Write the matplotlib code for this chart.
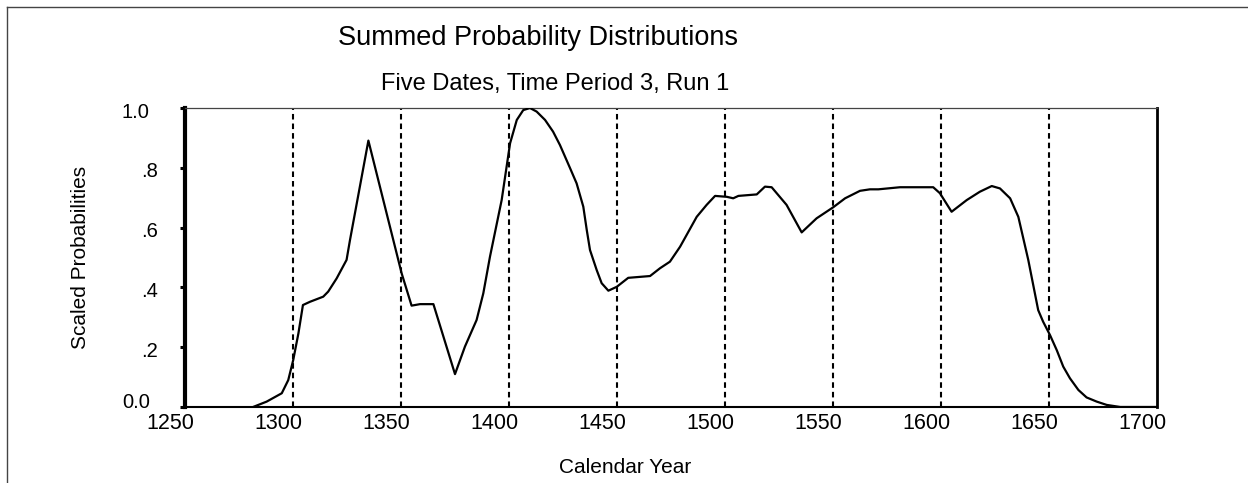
import matplotlib
matplotlib.use('Agg')
import matplotlib.pyplot as plt
from matplotlib.transforms import ScaledTranslation
from matplotlib.lines import Line2D

plt.rcParams['font.family'] = ['Liberation Sans', 'DejaVu Sans']
plt.rcParams['lines.scale_dashes'] = False

# ---- data ----
years = [1281.5, 1287.8, 1294.8, 1297.8, 1300.1, 1302.5, 1304.6, 1307.9, 1314.0, 1316.3,
         1320.2, 1324.8, 1326.4, 1334.9, 1350.3, 1354.9, 1358.8, 1365.0, 1375.0, 1379.6,
         1385.0, 1388.1, 1391.2, 1396.6, 1400.5, 1403.6, 1406.6, 1409.7, 1412.8, 1416.7,
         1420.4, 1423.6, 1428.2, 1431.3, 1434.4, 1436.0, 1437.5, 1440.6, 1442.9, 1446.0,
         1449.9, 1455.2, 1465.3, 1469.9, 1474.5, 1479.2, 1486.9, 1491.5, 1495.4, 1500.8,
         1503.8, 1506.2, 1514.7, 1518.5, 1521.6, 1528.5, 1535.5, 1542.4, 1550.1, 1555.6,
         1562.5, 1567.1, 1571.0, 1581.0, 1596.4, 1599.5, 1604.9, 1611.9, 1618.0, 1623.5,
         1627.3, 1632.0, 1635.8, 1640.4, 1645.0, 1647.3, 1650.5, 1653.6, 1656.6, 1659.7,
         1663.6, 1667.4, 1672.1, 1676.7, 1683.0, 1700.0]
probs = [0.000, 0.018, 0.046, 0.090, 0.157, 0.246, 0.341, 0.352, 0.369, 0.386,
         0.430, 0.492, 0.559, 0.891, 0.447, 0.339, 0.344, 0.344, 0.110, 0.202,
         0.291, 0.380, 0.503, 0.692, 0.882, 0.960, 0.993, 1.000, 0.988, 0.960,
         0.921, 0.876, 0.800, 0.748, 0.670, 0.592, 0.525, 0.458, 0.414, 0.389,
         0.402, 0.432, 0.438, 0.464, 0.486, 0.536, 0.636, 0.676, 0.706, 0.703,
         0.698, 0.706, 0.711, 0.737, 0.735, 0.676, 0.584, 0.631, 0.668, 0.698,
         0.723, 0.728, 0.728, 0.735, 0.735, 0.715, 0.653, 0.692, 0.720, 0.739,
         0.731, 0.698, 0.636, 0.492, 0.324, 0.285, 0.240, 0.190, 0.135, 0.096,
         0.057, 0.032, 0.018, 0.007, 0.000, 0.000]
x_ticks = [1250, 1300, 1350, 1400, 1450, 1500, 1550, 1600, 1650, 1700]
x_tick_labels = ['1250', '1300', '1350', '1400', '1450', '1500', '1550', '1600', '1650', '1700']
y_ticks = [0.0, 0.2, 0.4, 0.6, 0.8, 1.0]
y_tick_labels = ['0.0', '.2', '.4', '.6', '.8', '1.0']
ref_lines = [1300, 1350, 1400, 1450, 1500, 1550, 1600, 1650]

title = 'Summed Probability Distributions'
subtitle = 'Five Dates, Time Period 3, Run 1'
xlabel = 'Calendar Year'
ylabel = 'Scaled Probabilities'

# ---- figure ----
W, H = 1248, 483
fig = plt.figure(figsize=(W / 100, H / 100), dpi=100)
fig.patch.set_facecolor('white')
ax = fig.add_axes([185 / W, 1 - 407 / H, (1157 - 185) / W, (407 - 108) / H])

for xv in ref_lines:
    ax.axvline(xv, color='black', lw=1.5, ls=(0, (4, 2.9)), zorder=1)
ax.plot(years, probs, color='black', lw=1.6, zorder=3,
        solid_joinstyle='round', solid_capstyle='round')

ax.set_xlim(1250, 1700)
ax.set_ylim(0, 1)

ax.set_xticks(x_ticks)
ax.set_xticklabels(x_tick_labels, fontsize=15.5)
ax.tick_params(axis='x', length=0, pad=4)
for lab in ax.get_xticklabels():
    lab.set_transform(lab.get_transform() + ScaledTranslation(-15 / 100, 0, fig.dpi_scale_trans))

ax.set_yticks(y_ticks)
ax.set_yticklabels(y_tick_labels, fontsize=14.5)
ax.tick_params(axis='y', length=3.6, width=2.2, direction='out', pad=16, color='black')
for val, lab in zip(y_ticks, ax.get_yticklabels()):
    txt = lab.get_text()
    dx = -8 if len(txt) == 3 else 0
    dy = 7 if val == 0 else -2
    lab.set_transform(lab.get_transform() + ScaledTranslation(dx / 100, dy / 100, fig.dpi_scale_trans))

ax.spines['left'].set_linewidth(3)
ax.spines['left'].set_color('black')
ax.spines['right'].set_linewidth(2)
ax.spines['right'].set_color('black')
ax.spines['bottom'].set_linewidth(1.5)
ax.spines['bottom'].set_color('black')
ax.spines['top'].set_linewidth(0.9)
ax.spines['top'].set_color('#444444')

fig.text(538 / W, 1 - 45 / H, title, fontsize=19.5, ha='center', va='baseline')
fig.text(555 / W, 1 - 90 / H, subtitle, fontsize=17, ha='center', va='baseline')
fig.text(625 / W, 1 - 473 / H, xlabel, fontsize=15, ha='center', va='baseline')
fig.text(80 / W, 1 - 257 / H, ylabel, fontsize=15, ha='center', va='center', rotation=90)

# outer frame (left and top edges)
fig.add_artist(Line2D([7 / W, 7 / W], [0, 1 - 7 / H], color='#444444', lw=1, transform=fig.transFigure))
fig.add_artist(Line2D([7 / W, 1], [1 - 7 / H, 1 - 7 / H], color='#444444', lw=1, transform=fig.transFigure))

fig.savefig('out.png', dpi=100, facecolor='white')
